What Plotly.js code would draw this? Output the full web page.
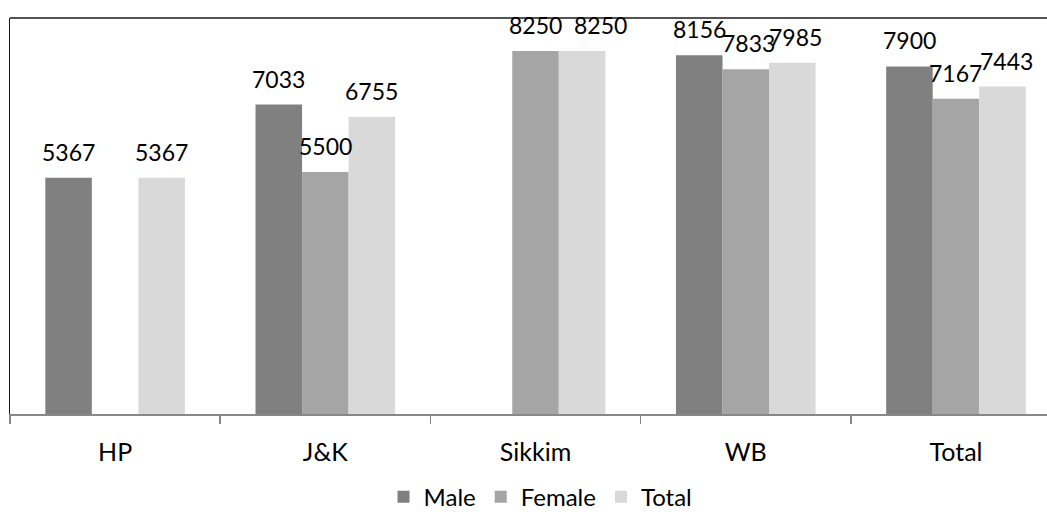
<!DOCTYPE html>
<html>
<head>
<meta charset="utf-8">
<script src="https://cdn.plot.ly/plotly-3.0.1.min.js"></script>
<style>
  html, body { margin: 0; padding: 0; background: #fff; }
  #chart { width: 1047px; height: 516px; }
</style>
</head>
<body>
<div id="chart"></div>
<script>
// Categories and series values
const regions = ["HP", "J&K", "Sikkim", "WB", "Total"];
const maleValues = [5367, 7033, null, 8156, 7900];
const femaleValues = [null, 5500, 8250, 7833, 7167];
const totalValues = [5367, 6755, 8250, 7985, 7443];

const seriesNames = ["Male", "Female", "Total"];
const seriesColors = ["#808080", "#a5a5a5", "#d9d9d9"];
const seriesValues = [maleValues, femaleValues, totalValues];

const FONT = "Lato, 'Open Sans', sans-serif";
const LABEL_SIZE = 23;
const TEXT_SIZE = 25;
const LEGEND_SIZE = 24;
const BARGAP = 0.336;
const barWidth = (1 - BARGAP) / seriesValues.length;

// Sideways nudges for labels that would otherwise collide (series|category -> px)
const labelNudges = { "Total|Sikkim": 18, "Female|WB": 3, "Total|WB": 3, "Total|Total": 4 };

const traces = seriesValues.map((vals, i) => ({
  type: "bar",
  name: seriesNames[i],
  x: regions,
  y: vals,
  marker: { color: seriesColors[i], line: { width: 0 } },
  hoverinfo: "x+y+name"
}));

// Value labels above every bar, offset to each bar's slot in the group
const annotations = [];
seriesValues.forEach((vals, i) => {
  const offset = (i - (seriesValues.length - 1) / 2) * barWidth;
  vals.forEach((v, j) => {
    if (v === null) return;
    annotations.push({
      x: j + offset,
      y: v,
      xref: "x",
      yref: "y",
      text: String(v),
      showarrow: false,
      xanchor: "center",
      yanchor: "middle",
      yshift: 26,
      xshift: labelNudges[seriesNames[i] + "|" + regions[j]] || 0,
      font: { family: FONT, size: LABEL_SIZE, color: "#000" }
    });
  });
});

const layout = {
  width: 1047,
  height: 516,
  margin: { l: 10, r: 0, t: 18, b: 102, autoexpand: false },
  paper_bgcolor: "#fff",
  plot_bgcolor: "#fff",
  barmode: "group",
  bargap: BARGAP,
  bargroupgap: 0,
  font: { family: FONT, color: "#000" },
  xaxis: {
    type: "category",
    range: [-0.5, 4.433],
    tickson: "boundaries",
    ticks: "outside",
    ticklen: 8,
    tickwidth: 1.5,
    tickcolor: "#888",
    ticklabelstandoff: 15,
    showline: true,
    linecolor: "#888",
    linewidth: 1.5,
    showgrid: false,
    zeroline: false,
    tickfont: { family: FONT, size: TEXT_SIZE, color: "#000" },
    fixedrange: true
  },
  yaxis: {
    range: [0, 9000],
    showticklabels: false,
    ticks: "",
    showgrid: false,
    zeroline: false,
    showline: true,
    linecolor: "#1a1a1a",
    linewidth: 1.5,
    fixedrange: true
  },
  shapes: [{
    type: "line",
    xref: "paper", yref: "paper",
    x0: 0, x1: 1, y0: 1, y1: 1,
    line: { color: "#1a1a1a", width: 1.5 }
  }],
  showlegend: true,
  legend: {
    orientation: "h",
    x: 0.5116,
    xanchor: "center",
    y: -0.21,
    yanchor: "middle",
    font: { family: FONT, size: LEGEND_SIZE, color: "#000" },
    bgcolor: "rgba(0,0,0,0)"
  },
  annotations: annotations
};

Plotly.newPlot("chart", traces, layout, { displayModeBar: false, staticPlot: true });
</script>
</body>
</html>
